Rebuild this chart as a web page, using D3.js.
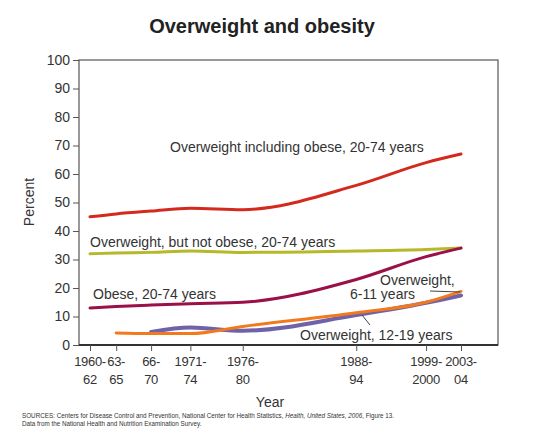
<!DOCTYPE html><html><head><script src="https://cdn.jsdelivr.net/npm/d3@7"></script>
<style>body{margin:0;background:#fff}text{font-family:Arial,"Liberation Sans",sans-serif}</style></head><body>
<svg id="c" width="550" height="446"></svg>
<script>
const years=[1961,1964,1968,1972.5,1978.5,1991.5,1999.5,2003.5];
const tickLabels=[["1960-","62"],["63-","65"],["66-","70"],["1971-","74"],["1976-","80"],["1988-","94"],["1999-","2000"],["2003-","04"]];
const overweightInclObese=[45,46,47,48,47.5,56,64,67];
const overweightNotObese=[32,32.3,32.5,33,32.5,33,33.5,34];
const obese=[13,13.5,14,14.5,15,23,31,34];
const ow611=[null,4.2,4,4,6.5,11.3,15,18.8];
const ow1219=[null,null,4.6,6.1,5,10.5,14.8,17.4];
const svg=d3.select("#c");
const x=d3.scaleLinear().domain([1961,2003.5]).range([90,461]);
const y=d3.scaleLinear().domain([0,100]).range([345,60]);
svg.append("text").attr("x",262).attr("y",33).attr("text-anchor","middle").attr("font-size",20).attr("font-weight","bold").attr("fill","#222").text("Overweight and obesity");
svg.append("rect").attr("x",79).attr("y",60).attr("width",419).attr("height",285).attr("fill","none").attr("stroke","#555").attr("stroke-width",1.2);
svg.append("line").attr("x1",79).attr("x2",498).attr("y1",345).attr("y2",345).attr("stroke","#333").attr("stroke-width",2);
const ya=svg.append("g").attr("transform","translate(79,0)").call(d3.axisLeft(y).tickValues(d3.range(0,101,10)).tickSize(6).tickPadding(3));
ya.select(".domain").remove();
ya.selectAll("text").attr("font-size",14).attr("fill","#333");ya.selectAll("line").attr("stroke","#555");
const xa=svg.append("g").attr("transform","translate(0,345)").call(d3.axisBottom(x).tickValues(years).tickSize(6).tickFormat(""));
xa.select(".domain").remove();xa.selectAll("line").attr("stroke","#555");
years.forEach((v,i)=>{const t=svg.append("text").attr("x",x(v)).attr("y",366).attr("text-anchor","middle").attr("font-size",13).attr("letter-spacing",-0.3).attr("fill","#333");
 t.append("tspan").attr("x",x(v)).text(tickLabels[i][0]);t.append("tspan").attr("x",x(v)).attr("dy",18).text(tickLabels[i][1]);});
svg.append("text").attr("x",270).attr("y",407).attr("text-anchor","middle").attr("font-size",14).attr("fill","#333").text("Year");
svg.append("text").attr("transform","translate(34,202) rotate(-90)").attr("text-anchor","middle").attr("font-size",14).attr("fill","#333").text("Percent");
const line=d3.line().defined(d=>d[1]!=null).x(d=>x(d[0])).y(d=>y(d[1])).curve(d3.curveMonotoneX);
function draw(vals,col,w){svg.append("path").attr("d",line(years.map((yr,i)=>[yr,vals[i]]))).attr("fill","none").attr("stroke",col).attr("stroke-width",w).attr("stroke-linecap","round");}
draw(overweightInclObese,"#d42a1e",3);
draw(overweightNotObese,"#b7b72a",3);
draw(obese,"#9a1048",3);
draw(ow1219,"#6f62a8",4);
draw(ow611,"#f27a1e",3);
function lab(t,xx,yy){svg.append("text").attr("x",xx).attr("y",yy).attr("font-size",14).attr("fill","#333").text(t);}
lab("Overweight including obese, 20-74 years",170,152);
lab("Overweight, but not obese, 20-74 years",90,247);
lab("Obese, 20-74 years",93,299);
lab("Overweight,",380,285);
lab("6-11 years",350,299);
lab("Overweight, 12-19 years",300,340);
svg.append("line").attr("x1",430).attr("y1",291).attr("x2",460).attr("y2",292).attr("stroke","#444");
svg.append("line").attr("x1",370).attr("y1",325).attr("x2",362).attr("y2",315).attr("stroke","#444");
const f=svg.append("text").attr("x",22).attr("y",418).attr("font-size",6.3).attr("fill","#333");
f.append("tspan").text("SOURCES: Centers for Disease Control and Prevention, National Center for Health Statistics, ");
f.append("tspan").attr("font-style","italic").text("Health, United States, 2006");
f.append("tspan").text(", Figure 13.");
svg.append("text").attr("x",22).attr("y",426).attr("font-size",6.3).attr("fill","#333").text("Data from the National Health and Nutrition Examination Survey.");
</script></body></html>
